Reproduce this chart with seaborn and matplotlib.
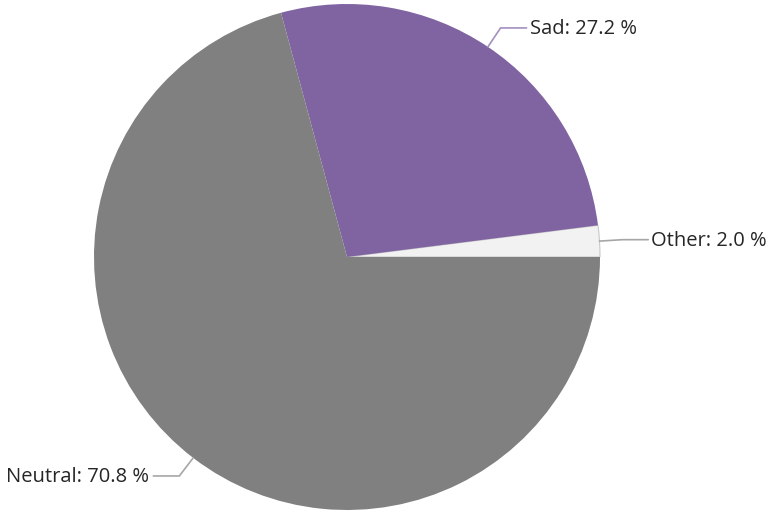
import numpy as np
import matplotlib
matplotlib.use("Agg")
import matplotlib.pyplot as plt
import seaborn as sns

categories = ["Other", "Sad", "Neutral"]
values = [2.0, 27.2, 70.8]
colors = ["#F2F2F2", "#8064A2", "#808080"]
line_colors = ["#A6A6A6", "#A38FC0", "#A6A6A6"]

sns.set_theme(style="white")
plt.rcParams["font.family"] = ["Open Sans", "DejaVu Sans"]

W, H = 768, 512
fig = plt.figure(figsize=(W / 100, H / 100), dpi=100)
ax = fig.add_axes([0, 0, 1, 1])

cx, cy, R = 347, H - 257, 253
wedges, _ = ax.pie(values, colors=colors, startangle=0, counterclock=True,
                   center=(cx, cy), radius=R,
                   wedgeprops=dict(linewidth=0, edgecolor="none"))
wedges[0].set_edgecolor("#C8C8C8")
wedges[0].set_linewidth(0.8)

for w, cat, val, lc in zip(wedges, categories, values, line_colors):
    mid = np.deg2rad((w.theta1 + w.theta2) / 2)
    c, s = np.cos(mid), np.sin(mid)
    p0 = (cx + R * c, cy + R * s)
    p1 = (cx + 1.09 * R * c, cy + 1.09 * R * s)
    if c >= 0:
        p2 = (p1[0] + 26, p1[1])
        tx, ha = p2[0] + 3, "left"
    else:
        p2 = (p1[0] - 26, p1[1])
        tx, ha = p2[0] - 4, "right"
    ax.plot([p0[0], p1[0], p2[0]], [p0[1], p1[1], p2[1]], color=lc, lw=1.2,
            solid_joinstyle="miter")
    ax.text(tx, p2[1] - 1, f"{cat}: {val:.1f} %", ha=ha, va="center",
            fontsize=14.5, color="#262626")

ax.set_xlim(0, W)
ax.set_ylim(0, H)
ax.set_aspect("auto")
ax.axis("off")
fig.savefig("out.png", dpi=100)
